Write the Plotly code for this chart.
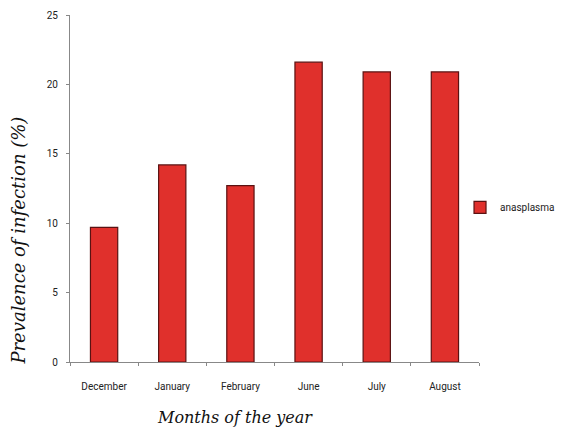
import plotly.graph_objects as go

months = ["December", "January", "February", "June", "July", "August"]
prevalence = [9.7, 14.2, 12.7, 21.6, 20.9, 20.9]
series_name = "anasplasma"
y_ticks = [0, 5, 10, 15, 20, 25]

fig = go.Figure()
fig.add_trace(go.Bar(
    x=months, y=prevalence, name=series_name,
    marker=dict(color="#E0302C", line=dict(color="#5A1212", width=1.2)),
    showlegend=True,
))

tick_font = dict(family="Roboto, Open Sans, sans-serif", size=10, color="#222")

fig.update_layout(
    width=561, height=432,
    margin=dict(l=70, r=82, t=15, b=70, autoexpand=False),
    paper_bgcolor="white", plot_bgcolor="white",
    bargap=0.6,
    showlegend=True,
    legend=dict(xref="container", yref="container", x=0.82, y=0.52, xanchor="left", yanchor="middle",
                font=dict(family="Roboto, Open Sans, sans-serif", size=10, color="#222"),
                itemwidth=30, bgcolor="rgba(0,0,0,0)"),
    xaxis=dict(showline=True, linecolor="#888", linewidth=1.2, ticks="outside",
               tickson="boundaries", ticklen=3, tickcolor="#888", tickfont=tick_font,
               tickangle=0, showgrid=False, ticklabelstandoff=15),
    yaxis=dict(range=[0, 25], tickvals=y_ticks, showline=True, linecolor="#888", linewidth=1.2,
               ticks="outside", ticklen=3, tickcolor="#888", tickfont=tick_font,
               showgrid=False, zeroline=False, ticklabelstandoff=6),
    annotations=[
        dict(text="<i>Prevalence of infection (%)</i>", textangle=-90, xref="paper", yref="paper",
             x=-0.127, y=0.35, xanchor="center", yanchor="middle", showarrow=False,
             font=dict(family="DejaVu Serif, serif", size=18, color="#111")),
        dict(text="<i>Months of the year</i>", xref="paper", yref="paper",
             x=0.403, y=-0.161, xanchor="center", yanchor="middle", showarrow=False,
             font=dict(family="DejaVu Serif, serif", size=16, color="#111")),
    ],
)

fig.write_html("out.html")
